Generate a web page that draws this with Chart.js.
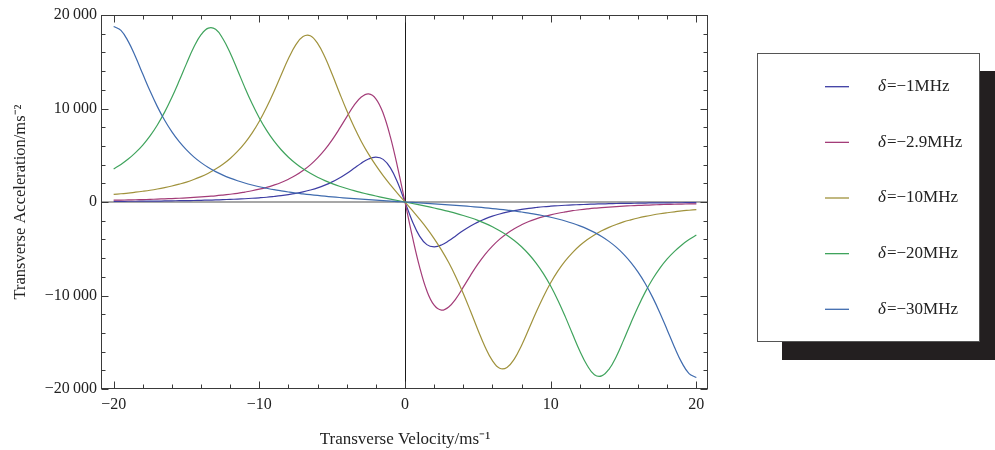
<!DOCTYPE html>
<html>
<head>
<meta charset="utf-8">
<script src="https://cdn.jsdelivr.net/npm/chart.js@4/dist/chart.umd.min.js"></script>
<style>
html,body{margin:0;padding:0;background:#fff;}
#wrap{width:995px;height:450px;position:relative;}
</style>
</head>
<body>
<div id="wrap"><canvas id="c" width="995" height="450"></canvas></div>
<script>
// ---------- data ----------
const velocity = [-20,-19.5,-19,-18.5,-18,-17.5,-17,-16.5,-16,-15.5,-15,-14.5,-14,-13.5,-13,-12.5,-12,-11.5,-11,-10.5,
  -10,-9.5,-9,-8.5,-8,-7.5,-7,-6.5,-6,-5.5,-5,-4.5,-4,-3.5,-3,-2.5,-2,-1.5,-1,-0.5,0,
  0.5,1,1.5,2,2.5,3,3.5,4,4.5,5,5.5,6,6.5,7,7.5,8,8.5,9,9.5,10,
  10.5,11,11.5,12,12.5,13,13.5,14,14.5,15,15.5,16,16.5,17,17.5,18,18.5,19,19.5,20];

const accel_1MHz = [60,70,80,80,90,100,100,110,130,140,150,160,180,200,220,250,280,310,350,400,
  450,510,590,680,790,920,1080,1280,1510,1800,2150,2570,3060,3600,4150,4600,4790,4560,3650,2050,0,
  -2050,-3650,-4560,-4790,-4600,-4150,-3600,-3060,-2570,-2150,-1800,-1510,-1280,-1080,-920,-790,-680,-590,-510,
  -450,-400,-350,-310,-280,-250,-220,-200,-180,-160,-150,-140,-130,-110,-100,-100,-90,-80,-80,-70,-60];

const accel_2_9MHz = [190,210,220,240,260,280,310,340,370,400,440,490,540,600,660,740,830,930,1060,1200,
  1370,1570,1810,2090,2440,2850,3360,3970,4720,5600,6650,7840,9110,10330,11220,11560,11040,9500,6940,3660,0,
  -3660,-6940,-9500,-11040,-11560,-11220,-10330,-9110,-7840,-6650,-5600,-4720,-3970,-3360,-2850,-2440,-2090,-1810,-1570,
  -1370,-1200,-1060,-930,-830,-740,-660,-600,-540,-490,-440,-400,-370,-340,-310,-280,-260,-240,-220,-210,-190];

const accel_10MHz = [810,880,950,1050,1150,1260,1390,1540,1710,1910,2130,2400,2710,3080,3520,4040,4660,5410,6300,7370,
  8640,10130,11800,13590,15340,16800,17700,17780,16960,15500,13660,11690,9780,8040,6480,5120,3910,2820,1830,900,0,
  -900,-1830,-2820,-3910,-5120,-6480,-8040,-9780,-11690,-13660,-15500,-16960,-17780,-17700,-16800,-15340,-13590,-11800,-10130,
  -8640,-7370,-6300,-5410,-4660,-4040,-3520,-3080,-2710,-2400,-2130,-1910,-1710,-1540,-1390,-1260,-1150,-1050,-950,-880,-810];

const accel_20MHz = [3540,4020,4590,5280,6090,7070,8240,9610,11200,12960,14800,16540,17890,18600,18470,17460,15930,14120,12260,10530,
  8990,7660,6530,5590,4790,4120,3550,3070,2650,2290,1970,1690,1440,1210,1010,820,640,470,310,160,0,
  -160,-310,-470,-640,-820,-1010,-1210,-1440,-1690,-1970,-2290,-2650,-3070,-3550,-4120,-4790,-5590,-6530,-7660,
  -8990,-10530,-12260,-14120,-15930,-17460,-18470,-18600,-17890,-16540,-14800,-12960,-11200,-9610,-8240,-7070,-6090,-5280,-4590,-4020,-3540];

const accel_30MHz = [18770,18350,17180,15530,13680,11860,10200,8740,7500,6450,5570,4830,4210,3690,3250,2870,2550,2270,2030,1820,
  1630,1470,1320,1190,1070,960,870,780,700,620,550,480,420,360,310,250,200,150,100,50,0,
  -50,-100,-150,-200,-250,-310,-360,-420,-480,-550,-620,-700,-780,-870,-960,-1070,-1190,-1320,-1470,-1630,
  -1820,-2030,-2270,-2550,-2870,-3250,-3690,-4210,-4830,-5570,-6450,-7500,-8740,-10200,-11860,-13680,-15530,-17180,-18350,-18770];

const seriesLabels = ['δ=−1MHz','δ=−2.9MHz','δ=−10MHz','δ=−20MHz','δ=−30MHz'];
const xTickValues = [-20,-10,0,10,20];
const yTickValues = [-20000,-10000,0,10000,20000];
const xMinorTicks = [-20,-18,-16,-14,-12,-10,-8,-6,-4,-2,0,2,4,6,8,10,12,14,16,18,20];
const yMinorTicks = [-20000,-18000,-16000,-14000,-12000,-10000,-8000,-6000,-4000,-2000,0,2000,4000,6000,8000,10000,12000,14000,16000,18000,20000];

// ---------- styles ----------
const seriesColors = ['#3d3da3','#a33c78','#a0923c','#3fa35c','#3f6bae'];
const serif = '"Liberation Serif","Times New Roman",serif';
const seriesValues = [accel_1MHz, accel_2_9MHz, accel_10MHz, accel_20MHz, accel_30MHz];

function fmt(v){
  let s = Math.abs(v).toString();
  if (s.length > 4) s = s.slice(0, -3) + '\u2009' + s.slice(-3);
  return (v < 0 ? '\u2212' : '') + s;
}

const datasets = seriesValues.map((vals, i) => ({
  label: seriesLabels[i],
  data: velocity.map((v, k) => ({x: v, y: vals[k]})),
  borderColor: seriesColors[i],
  borderWidth: 1.2,
  pointRadius: 0,
  fill: false,
  tension: 0.4,
  order: seriesValues.length - 1 - i
}));

const framePlugin = {
  id: 'frame',
  beforeDatasetsDraw(chart){
    const {ctx, chartArea: a, scales: {x, y}} = chart;
    ctx.save();
    const y0 = y.getPixelForValue(0);
    ctx.strokeStyle = '#8a8a8a'; ctx.lineWidth = 1.6;
    ctx.beginPath(); ctx.moveTo(a.left, y0); ctx.lineTo(a.right, y0); ctx.stroke();
    const x0 = Math.round(x.getPixelForValue(0)) + 0.5;
    ctx.strokeStyle = '#1a1a1a'; ctx.lineWidth = 1;
    ctx.beginPath(); ctx.moveTo(x0, a.top); ctx.lineTo(x0, a.bottom); ctx.stroke();
    ctx.restore();
  },
  afterDatasetsDraw(chart){
    const {ctx, chartArea: a, scales: {x, y}} = chart;
    ctx.save();
    ctx.strokeStyle = '#3a3a3a'; ctx.lineWidth = 1;
    const L = Math.round(a.left) - 0.5, R = Math.round(a.right) - 0.5;
    const T = Math.round(a.top) + 0.5, B = Math.round(a.bottom) - 0.5;
    ctx.strokeRect(L, T, R - L, B - T);
    ctx.beginPath();
    xMinorTicks.forEach(v => {
      const px = Math.round(x.getPixelForValue(v)) + 0.5;
      const len = xTickValues.includes(v) ? 7 : 4;
      ctx.moveTo(px, B); ctx.lineTo(px, B - len);
      ctx.moveTo(px, T); ctx.lineTo(px, T + len);
    });
    yMinorTicks.forEach(v => {
      const py = Math.round(y.getPixelForValue(v)) + 0.5;
      const len = yTickValues.includes(v) ? 7 : 4;
      ctx.moveTo(L, py); ctx.lineTo(L + len, py);
      ctx.moveTo(R, py); ctx.lineTo(R - len, py);
    });
    ctx.stroke();
    ctx.restore();
  }
};

const legendPlugin = {
  id: 'boxLegend',
  afterDraw(chart){
    const ctx = chart.ctx;
    ctx.save();
    ctx.fillStyle = '#231f20';
    ctx.fillRect(782, 71, 213, 289);
    ctx.fillStyle = '#ffffff';
    ctx.fillRect(757, 53, 223, 289);
    ctx.strokeStyle = '#555'; ctx.lineWidth = 1;
    ctx.strokeRect(757.5, 53.5, 222, 288);
    chart.data.datasets.forEach((ds, i) => {
      const yy = 86.7 + i * 55.65;
      ctx.strokeStyle = ds.borderColor; ctx.lineWidth = 1.3;
      ctx.beginPath(); ctx.moveTo(825, yy); ctx.lineTo(849, yy); ctx.stroke();
      ctx.fillStyle = '#222'; ctx.textBaseline = 'middle'; ctx.textAlign = 'left';
      const first = ds.label.slice(0, 1), rest = ds.label.slice(1);
      ctx.font = 'italic 17px ' + serif;
      ctx.fillText(first, 878, yy);
      const w = ctx.measureText(first).width;
      ctx.font = '17px ' + serif;
      ctx.fillText(rest, 878 + w + 1, yy);
    });
    ctx.restore();
  }
};

new Chart(document.getElementById('c').getContext('2d'), {
  type: 'line',
  data: {datasets},
  options: {
    responsive: false,
    animation: false,
    devicePixelRatio: 1,
    layout: {padding: {left: 0, top: 15, right: 287, bottom: 0}},
    plugins: {legend: {display: false}, tooltip: {enabled: false}},
    scales: {
      x: {
        type: 'linear', min: -20.8, max: 20.8,
        grid: {display: false, drawTicks: false},
        border: {display: false},
        afterBuildTicks: s => { s.ticks = xTickValues.map(v => ({value: v})); },
        afterFit: s => { s.height = 61; },
        ticks: {padding: 6, color: '#222', autoSkip: false, maxRotation: 0,
                font: {family: serif, size: 16}, callback: v => fmt(v)},
        title: {display: true, text: 'Transverse Velocity/ms⁻¹', color: '#222',
                font: {family: serif, size: 17}, padding: {top: 0, bottom: 0}}
      },
      y: {
        type: 'linear', min: -20000, max: 20000,
        grid: {display: false, drawTicks: false},
        border: {display: false},
        afterBuildTicks: s => { s.ticks = yTickValues.map(v => ({value: v})); },
        afterFit: s => { s.width = 102; },
        ticks: {padding: 5, color: '#222', autoSkip: false,
                font: {family: serif, size: 16}, callback: v => fmt(v)},
        title: {display: true, text: 'Transverse Acceleration/ms⁻²', color: '#222',
                font: {family: serif, size: 16.5}, padding: {top: 11, bottom: 0}}
      }
    }
  },
  plugins: [framePlugin, legendPlugin]
});
</script>
</body>
</html>
